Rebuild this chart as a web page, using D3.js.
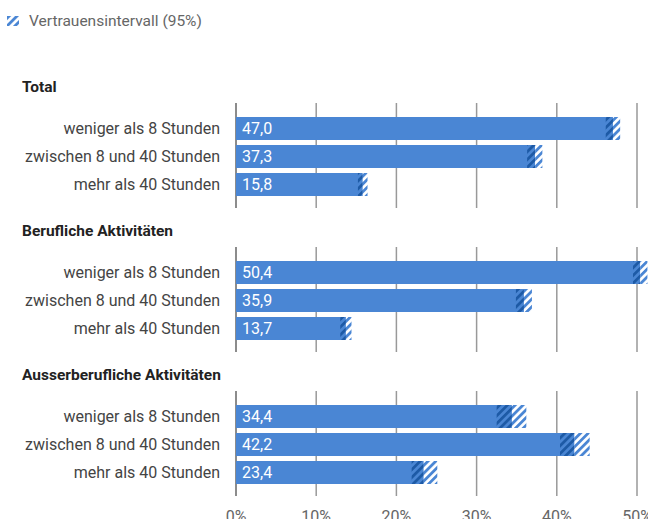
<!DOCTYPE html>
<html>
    <head>
        <meta charset="utf-8">
        <style>
            body { margin: 0; background: #fff; }
            svg { font-family: Roboto, "Noto Sans", sans-serif; }
        </style>
    </head>
    <body>
        <svg></svg>

        <script src="https://d3js.org/d3.v7.min.js"></script>

        <script>
            const groups = ["Total", "Berufliche Aktivitäten", "Ausserberufliche Aktivitäten"];
            const categories = ["weniger als 8 Stunden", "zwischen 8 und 40 Stunden", "mehr als 40 Stunden"];

            // values per group, same order as categories
            const values = [
                [47.0, 37.3, 15.8],
                [50.4, 35.9, 13.7],
                [34.4, 42.2, 23.4]
            ];
            const ciLow = [
                [46.1, 36.3, 15.2],
                [49.5, 34.9, 13.0],
                [32.5, 40.4, 21.9]
            ];
            const ciHigh = [
                [47.9, 38.2, 16.4],
                [51.3, 36.9, 14.4],
                [36.2, 44.1, 25.1]
            ];
            const ticks = [0, 10, 20, 30, 40, 50, 60];

            const width = 648,
                height = 519,
                barColor = "#4a86d4";

            const svg = d3.select("svg")
                        .attr("width", width)
                        .attr("height", height);

            const x = d3.scaleLinear()
                        .domain([0, 60])
                        .range([236, 717.2]);

            const y = d3.scaleBand()
                        .domain(categories)
                        .range([0, 79])
                        .paddingInner(5 / 28)
                        .paddingOuter(0);

            // Hatch patterns: one over the bar, one beyond it
            const defs = svg.append("defs");
            function hatch(id, bg, stroke) {
                const p = defs.append("pattern")
                    .attr("id", id)
                    .attr("patternUnits", "userSpaceOnUse")
                    .attr("width", 5.5)
                    .attr("height", 5.5)
                    .attr("patternTransform", "rotate(45)");
                p.append("rect").attr("width", 5.5).attr("height", 5.5).attr("fill", bg);
                p.append("rect").attr("width", 2.8).attr("height", 5.5).attr("fill", stroke);
            }
            hatch("hatchIn", barColor, "#1d5aa6");
            hatch("hatchOut", "#fff", barColor);

            // Legend
            svg.append("rect")
                .attr("x", 7).attr("y", 16)
                .attr("width", 12).attr("height", 10)
                .attr("fill", "url(#hatchOut)");
            svg.append("text")
                .attr("x", 29).attr("y", 21)
                .attr("dy", "0.35em")
                .attr("fill", "#666")
                .style("font-size", "15.5px")
                .text("Vertrauensintervall (95%)");

            const top0 = 117, groupStep = 144;

            const g = svg.selectAll("g.group")
                        .data(groups)
                        .enter()
                        .append("g")
                        .attr("class", "group")
                        .attr("transform", function(d, i) { return "translate(0," + (top0 + i * groupStep) + ")"; });

            g.append("text")
                .attr("x", 22)
                .attr("y", -30)
                .attr("dy", "0.35em")
                .attr("fill", "#222")
                .style("font-size", "15.5px")
                .style("font-weight", "bold")
                .text(function(d) { return d; });

            // gridlines
            g.selectAll("line.grid")
                .data(ticks)
                .enter()
                .append("line")
                .attr("x1", d => x(d)).attr("x2", d => x(d))
                .attr("y1", -14).attr("y2", 91)
                .attr("stroke", d => d === 0 ? "#666" : "#999")
                .attr("stroke-width", 1.5);

            g.each(function(name, gi) {
                const grp = d3.select(this);
                const rows = categories.map((c, i) => ({
                    cat: c, v: values[gi][i], lo: ciLow[gi][i], hi: ciHigh[gi][i]
                }));

                grp.selectAll("rect.bar")
                    .data(rows)
                    .enter()
                    .append("rect")
                    .attr("x", x(0))
                    .attr("y", d => y(d.cat))
                    .attr("width", d => x(d.v) - x(0))
                    .attr("height", y.bandwidth())
                    .attr("fill", barColor);

                grp.selectAll("rect.ciIn")
                    .data(rows)
                    .enter()
                    .append("rect")
                    .attr("x", d => x(d.lo))
                    .attr("y", d => y(d.cat))
                    .attr("width", d => x(d.v) - x(d.lo))
                    .attr("height", y.bandwidth())
                    .attr("fill", "url(#hatchIn)");

                grp.selectAll("rect.ciOut")
                    .data(rows)
                    .enter()
                    .append("rect")
                    .attr("x", d => x(d.v))
                    .attr("y", d => y(d.cat))
                    .attr("width", d => x(d.hi) - x(d.v))
                    .attr("height", y.bandwidth())
                    .attr("fill", "url(#hatchOut)");

                grp.selectAll("text.cat")
                    .data(rows)
                    .enter()
                    .append("text")
                    .attr("x", 220)
                    .attr("y", d => y(d.cat) + y.bandwidth() / 2)
                    .attr("dy", "0.35em")
                    .attr("text-anchor", "end")
                    .attr("fill", "#444")
                    .style("font-size", "16px")
                    .text(d => d.cat);

                grp.selectAll("text.val")
                    .data(rows)
                    .enter()
                    .append("text")
                    .attr("x", x(0) + 6)
                    .attr("y", d => y(d.cat) + y.bandwidth() / 2)
                    .attr("dy", "0.35em")
                    .attr("fill", "#fff")
                    .style("font-size", "16px")
                    .text(d => d.v.toFixed(1).replace(".", ","));
            });

            // x axis labels below the last group
            svg.selectAll("text.tick")
                .data(ticks)
                .enter()
                .append("text")
                .attr("x", d => x(d))
                .attr("y", 522)
                .attr("text-anchor", "middle")
                .attr("fill", "#666")
                .style("font-size", "16px")
                .text(d => d + "%");
        </script>
    </body>
</html>
